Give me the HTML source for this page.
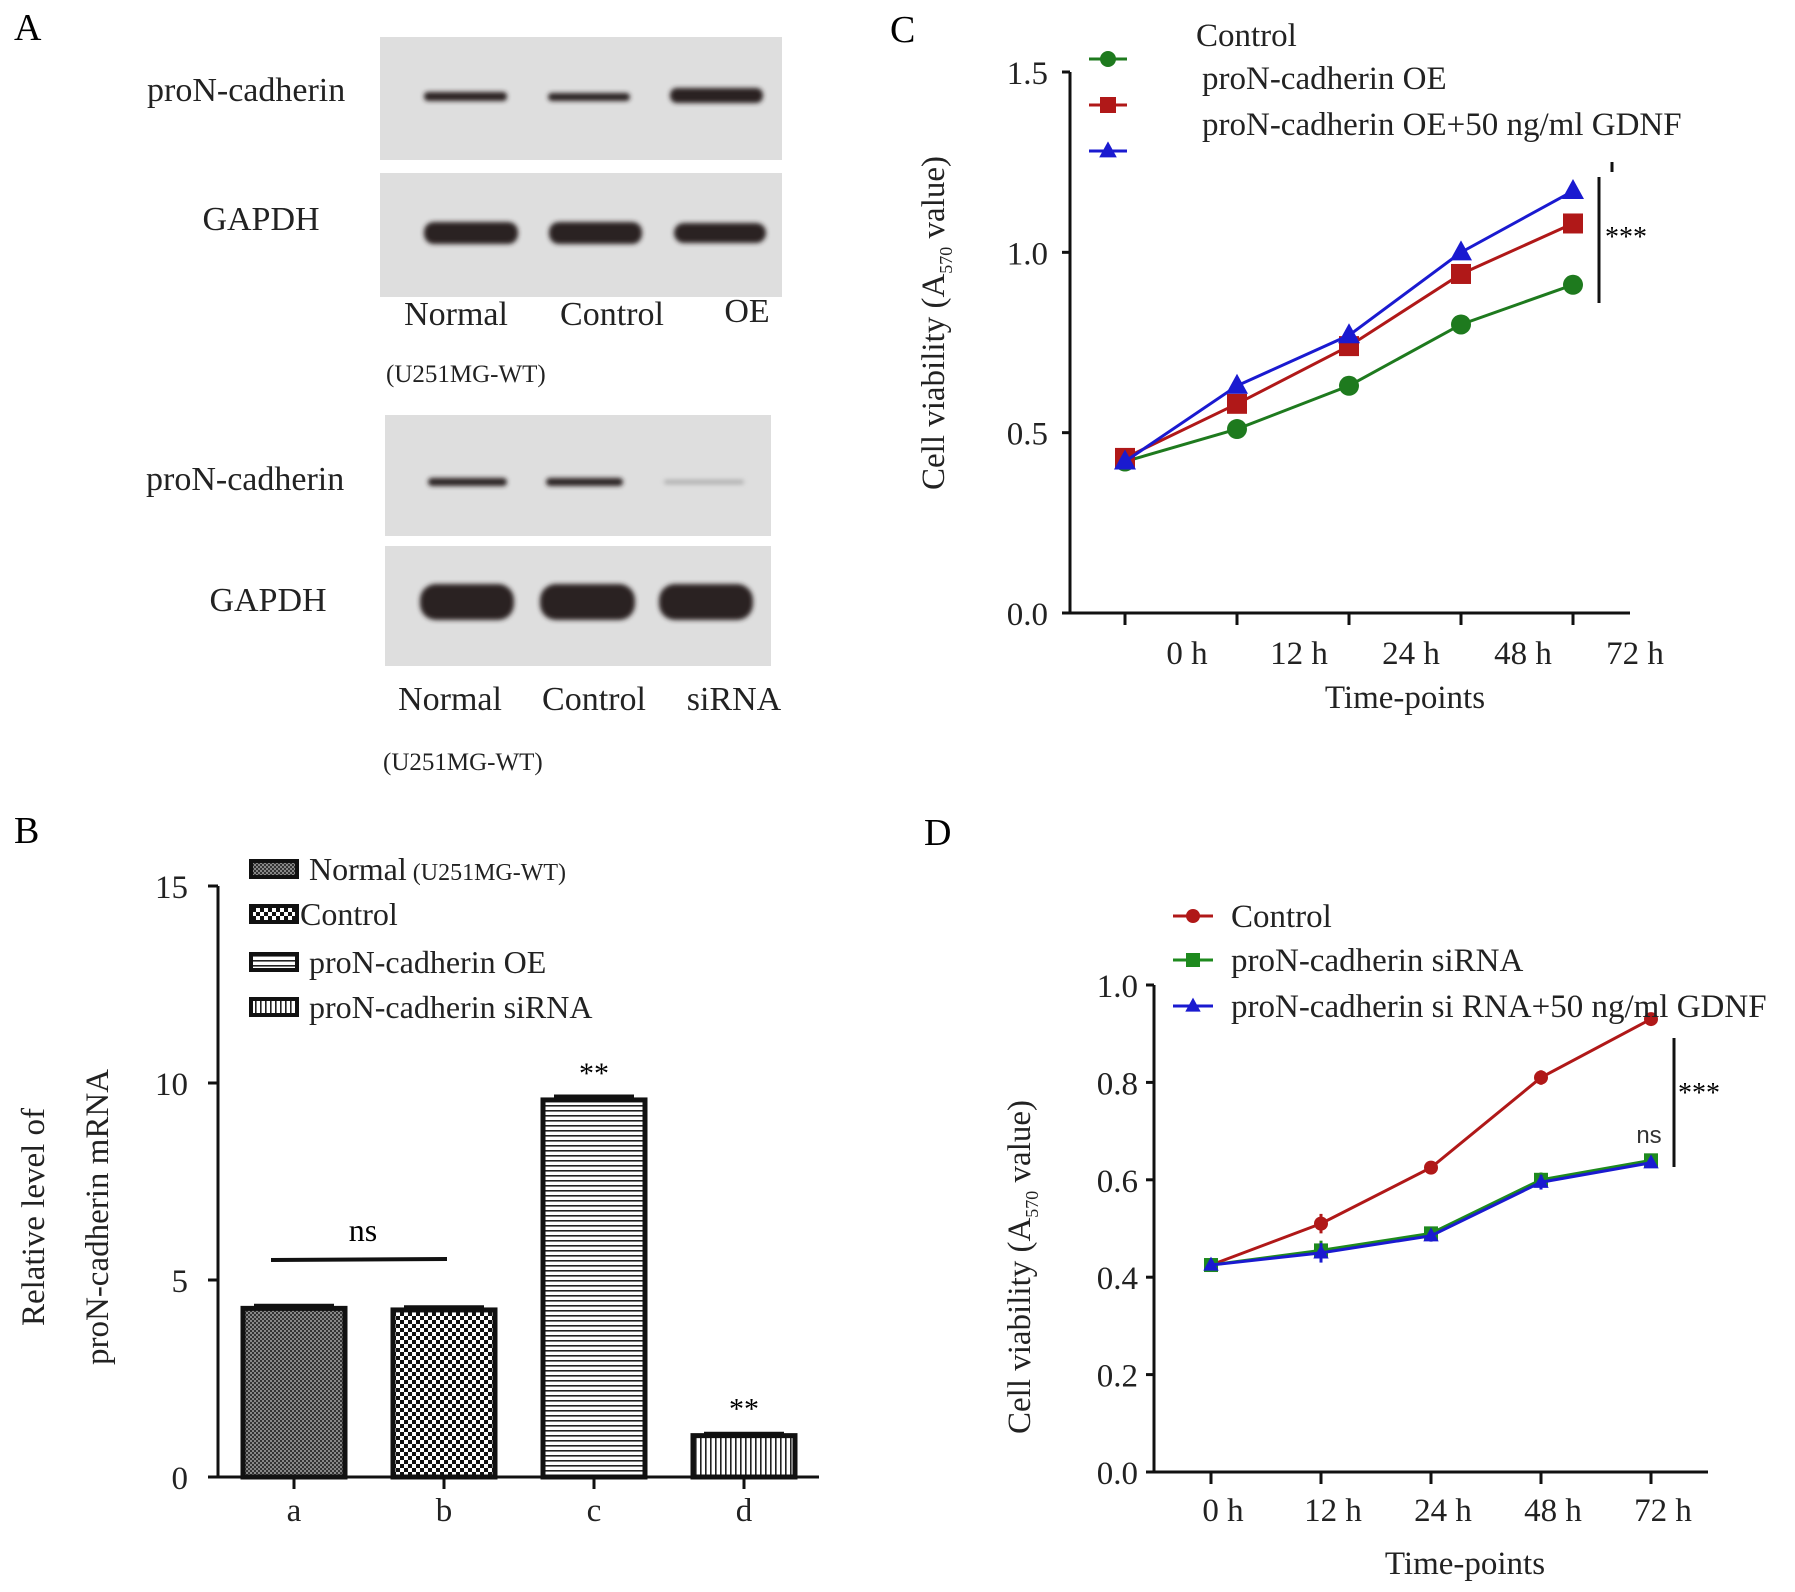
<!DOCTYPE html>
<html><head><meta charset="utf-8"><style>
body{margin:0;background:#fff}
svg{display:block;font-family:"Liberation Serif",serif}
</style></head><body>
<svg id="s" width="1795" height="1592" viewBox="0 0 1795 1592">
<defs>
<filter id="bl" x="-20%" y="-50%" width="140%" height="200%"><feGaussianBlur stdDeviation="2.5"/></filter>
<pattern id="pa" width="4" height="4" patternUnits="userSpaceOnUse"><rect width="4" height="4" fill="#888"/><rect width="2" height="2" fill="#333"/><rect x="2" y="2" width="2" height="2" fill="#333"/></pattern>
<pattern id="pb" width="8" height="8" patternUnits="userSpaceOnUse"><rect width="8" height="8" fill="#fff"/><rect width="4" height="4" fill="#111"/><rect x="4" y="4" width="4" height="4" fill="#111"/></pattern>
<pattern id="pc" width="6" height="5" patternUnits="userSpaceOnUse"><rect width="6" height="5" fill="#fff"/><rect width="6" height="1.6" fill="#222"/></pattern>
<pattern id="pd" width="5" height="6" patternUnits="userSpaceOnUse"><rect width="5" height="6" fill="#fff"/><rect width="1.6" height="6" fill="#222"/></pattern>
</defs>
<g>
<text x="14" y="40" font-size="38">A</text>
<rect x="380" y="37" width="402" height="123" fill="#dedede"/>
<rect x="380" y="173" width="402" height="124" fill="#dedede"/>
<rect x="385" y="415" width="386" height="121" fill="#dedede"/>
<rect x="385" y="546" width="386" height="120" fill="#dedede"/>
<g filter="url(#bl)" fill="#2a2222">
<rect x="424" y="92" width="83" height="9" rx="4"/>
<rect x="548" y="93" width="82" height="8" rx="4"/>
<rect x="670" y="88" width="93" height="15" rx="7"/>
<rect x="424" y="222" width="94" height="22" rx="10"/>
<rect x="549" y="222" width="93" height="22" rx="10"/>
<rect x="674" y="223" width="92" height="20" rx="10"/>
<rect x="428" y="478" width="79" height="8" rx="4"/>
<rect x="546" y="478" width="77" height="8" rx="4"/>
<rect x="664" y="480" width="80" height="4" rx="2" fill="#aaa"/>
<rect x="420" y="584" width="94" height="36" rx="16"/>
<rect x="540" y="584" width="95" height="36" rx="16"/>
<rect x="659" y="584" width="94" height="36" rx="16"/>
</g>
<g font-size="34" fill="#222">
<text x="147" y="101">proN-cadherin</text>
<text x="261" y="230" text-anchor="middle">GAPDH</text>
<text x="146" y="490">proN-cadherin</text>
<text x="268" y="611" text-anchor="middle">GAPDH</text>
<text x="456" y="325" text-anchor="middle">Normal</text>
<text x="612" y="325" text-anchor="middle">Control</text>
<text x="747" y="322" text-anchor="middle">OE</text>
<text x="450" y="710" text-anchor="middle">Normal</text>
<text x="594" y="710" text-anchor="middle">Control</text>
<text x="734" y="710" text-anchor="middle">siRNA</text>
<text x="386" y="382" font-size="25">(U251MG-WT)</text>
<text x="383" y="770" font-size="25">(U251MG-WT)</text>
</g>
</g>
<g id="B"></g>
<g id="C"></g>
<g id="D"></g>
</svg>
<script>
const NS="http://www.w3.org/2000/svg";
function mk(p,t,a,txt){const e=document.createElementNS(NS,t);for(const k in a)e.setAttribute(k,a[k]);if(txt!==undefined)e.textContent=txt;p.appendChild(e);return e;}

// ---- Panel B data
const bCats=["a","b","c","d"];
const bVals=[4.28,4.24,9.57,1.05];
const bErr=[0.08,0.08,0.1,0.06];
const bTicks=[0,5,10,15];
const bFills=["url(#pa)","url(#pb)","url(#pc)","url(#pd)"];
const bLegend=["Normal","Control","proN-cadherin OE","proN-cadherin siRNA"];
// ---- Panel C data
const cCats=["0 h","12 h","24 h","48 h","72 h"];
const cGreen=[0.42,0.51,0.63,0.80,0.91];
const cRed=[0.43,0.58,0.74,0.94,1.08];
const cBlue=[0.42,0.63,0.77,1.00,1.17];
const cTicks=[0,0.5,1.0,1.5];
const cLegend=["Control","proN-cadherin OE","proN-cadherin OE+50 ng/ml GDNF"];
// ---- Panel D data
const dCats=["0 h","12 h","24 h","48 h","72 h"];
const dRed=[0.425,0.51,0.625,0.81,0.93];
const dGreen=[0.425,0.455,0.49,0.60,0.64];
const dBlue=[0.425,0.45,0.485,0.595,0.635];
const dErr=[0.005,0.02,0.012,0.015,0.008];
const dTicks=[0,0.2,0.4,0.6,0.8,1.0];
const dLegend=["Control"," proN-cadherin siRNA","proN-cadherin si RNA+50 ng/ml GDNF"];

// ===== Panel B
(function(){
const g=document.getElementById("B");
const x0=218,y0=1477,yT=886,max=15;
const ys=v=>y0-(v/max)*(y0-yT);
const bx=i=>294+i*150;
let t=mk(g,"text",{x:14,y:843,"font-size":38});t.textContent="B";

let l=mk(g,"line",{x1:x0,y1:yT,x2:x0,y2:y0,stroke:"#111","stroke-width":3});

l=mk(g,"line",{x1:209,y1:y0,x2:819,y2:y0,stroke:"#111","stroke-width":3});

bTicks.forEach(v=>{
 mk(g,"line",{x1:x0-10,y1:ys(v),x2:x0,y2:ys(v),stroke:"#111","stroke-width":3});
 const e=mk(g,"text",{x:x0-30,y:ys(v)+12,"font-size":33,"text-anchor":"end",fill:"#222"},String(v));
 
});
bCats.forEach((c,i)=>{
 const x=bx(i);
 mk(g,"line",{x1:x,y1:y0,x2:x,y2:y0+12,stroke:"#111","stroke-width":3});
 const e=mk(g,"text",{x:x,y:1521,"font-size":33,"text-anchor":"middle",fill:"#222"},c);
 
 const r=mk(g,"rect",{x:x-51,y:ys(bVals[i]),width:102,height:y0-ys(bVals[i]),fill:bFills[i],stroke:"#111","stroke-width":5});
 
 const eb=mk(g,"line",{x1:x-40,y1:ys(bVals[i]+bErr[i]),x2:x+40,y2:ys(bVals[i]+bErr[i]),stroke:"#111","stroke-width":3});
 
});
[[2,"**"],[3,"**"]].forEach(([i,s])=>{const e=mk(g,"text",{x:bx(i),y:ys(bVals[i])-17,"font-size":30,"text-anchor":"middle"},s);
 });
l=mk(g,"line",{x1:271,y1:1260,x2:447,y2:1259,stroke:"#111","stroke-width":4});

t=mk(g,"text",{x:363,y:1241,"font-size":32,"text-anchor":"middle"},"ns");

bLegend.forEach((s,i)=>{
 const y=[869,914,962,1007][i];
 const r=mk(g,"rect",{x:251,y:y-8,width:46,height:16,fill:bFills[i],stroke:"#111","stroke-width":4});
 
 const e=mk(g,"text",{x:i==1?300:309,y:y+11,"font-size":32,fill:"#222"},s);
 
 if(i==0){const f=mk(g,"tspan",{"font-size":24,dx:6},"(U251MG-WT)");e.appendChild(f);}
});
t=mk(g,"text",{transform:"translate(44,1217) rotate(-90)","font-size":33,"text-anchor":"middle",fill:"#222"},"Relative level of");

t=mk(g,"text",{transform:"translate(108,1217) rotate(-90)","font-size":33,"text-anchor":"middle",fill:"#222"},"proN-cadherin mRNA");

})();

function marker(g,type,x,y,col,s){
 let e;
 if(type=="c")e=mk(g,"circle",{cx:x,cy:y,r:s,fill:col});
 else if(type=="s")e=mk(g,"rect",{x:x-s,y:y-s,width:2*s,height:2*s,fill:col});
 else e=mk(g,"polygon",{points:`${x},${y-s*1.2} ${x-s*1.1},${y+s*0.8} ${x+s*1.1},${y+s*0.8}`,fill:col});
 return e;
}

// ===== Panel C
(function(){
const g=document.getElementById("C");
const ax=1070,y0=613,yT=72,max=1.5;
const ys=v=>y0-(v/max)*(y0-yT);
const xs=i=>1125+i*112;
let t=mk(g,"text",{x:890,y:42,"font-size":38},"C");

let l=mk(g,"line",{x1:ax,y1:yT,x2:ax,y2:y0,stroke:"#111","stroke-width":3});

l=mk(g,"line",{x1:1064,y1:y0,x2:1630,y2:y0,stroke:"#111","stroke-width":3});

cTicks.forEach(v=>{
 mk(g,"line",{x1:ax-8,y1:ys(v),x2:ax,y2:ys(v),stroke:"#111","stroke-width":3});
 const e=mk(g,"text",{x:1048,y:ys(v)+12,"font-size":33,"text-anchor":"end",fill:"#222"},v.toFixed(1));
 
});
cCats.forEach((c,i)=>{
 mk(g,"line",{x1:xs(i),y1:y0,x2:xs(i),y2:y0+12,stroke:"#111","stroke-width":3});
 const e=mk(g,"text",{x:xs(i)+62,y:664,"font-size":33,"text-anchor":"middle",fill:"#222"},c);
 
});
t=mk(g,"text",{x:1405,y:708,"font-size":33,"text-anchor":"middle",fill:"#222"},"Time-points");

t=mk(g,"text",{transform:"translate(944,323) rotate(-90)","font-size":33,"text-anchor":"middle",fill:"#222"});

t.innerHTML='Cell viability (A<tspan font-size="18" dy="8">570</tspan><tspan dy="-8"> value)</tspan>';
[[cGreen,"#1e7a1e","c","line-control"],[cRed,"#b01818","s","line-oe"],[cBlue,"#1a1ad0","t","line-oe-gdnf"]].forEach(([d,col,m,n])=>{
 const p=mk(g,"polyline",{points:d.map((v,i)=>xs(i)+","+ys(v)).join(" "),fill:"none",stroke:col,"stroke-width":3});
 
 d.forEach((v,i)=>{const e=marker(g,m,xs(i),ys(v),col,10);
  });
});
[["#1e7a1e","c",59],["#b01818","s",105],["#1a1ad0","t",151]].forEach(([col,m,y],i)=>{
 const l2=mk(g,"line",{x1:1089,y1:y,x2:1127,y2:y,stroke:col,"stroke-width":3});
 
 const e=marker(g,m,1108,y,col,8);
 
 const tx=mk(g,"text",{x:i==0?1196:1202,y:[46,89,135][i],"font-size":33,fill:"#222"},cLegend[i]);
 
});
l=mk(g,"line",{x1:1599,y1:177,x2:1599,y2:303,stroke:"#111","stroke-width":3});

mk(g,"line",{x1:1612,y1:162,x2:1612,y2:172,stroke:"#111","stroke-width":3});
t=mk(g,"text",{x:1605,y:246,"font-size":28},"***");

})();

// ===== Panel D
(function(){
const g=document.getElementById("D");
const ax=1154,y0=1472,yT=985,max=1.0;
const ys=v=>y0-(v/max)*(y0-yT);
const xs=i=>1211+i*110;
let t=mk(g,"text",{x:924,y:845,"font-size":38},"D");

let l=mk(g,"line",{x1:ax,y1:yT,x2:ax,y2:y0,stroke:"#111","stroke-width":3});

l=mk(g,"line",{x1:1148,y1:y0,x2:1708,y2:y0,stroke:"#111","stroke-width":3});

dTicks.forEach(v=>{
 mk(g,"line",{x1:ax-8,y1:ys(v),x2:ax,y2:ys(v),stroke:"#111","stroke-width":3});
 const e=mk(g,"text",{x:1138,y:ys(v)+12,"font-size":33,"text-anchor":"end",fill:"#222"},v.toFixed(1));
 
});
dCats.forEach((c,i)=>{
 mk(g,"line",{x1:xs(i),y1:y0,x2:xs(i),y2:y0+12,stroke:"#111","stroke-width":3});
 const e=mk(g,"text",{x:xs(i)+12,y:1521,"font-size":33,"text-anchor":"middle",fill:"#222"},c);
 
});
t=mk(g,"text",{x:1465,y:1574,"font-size":33,"text-anchor":"middle",fill:"#222"},"Time-points");

t=mk(g,"text",{transform:"translate(1030,1267) rotate(-90)","font-size":33,"text-anchor":"middle",fill:"#222"});

t.innerHTML='Cell viability (A<tspan font-size="18" dy="8">570</tspan><tspan dy="-8"> value)</tspan>';
[[dRed,"#b01818","c","line-control"],[dGreen,"#1e8a1e","s","line-sirna"],[dBlue,"#1a1ad0","t","line-sirna-gdnf"]].forEach(([d,col,m,n])=>{
 const p=mk(g,"polyline",{points:d.map((v,i)=>xs(i)+","+ys(v)).join(" "),fill:"none",stroke:col,"stroke-width":3});
 
 d.forEach((v,i)=>{
  const eb=mk(g,"line",{x1:xs(i),y1:ys(v+dErr[i]),x2:xs(i),y2:ys(v-dErr[i]),stroke:col,"stroke-width":3});
  
  const e=marker(g,m,xs(i),ys(v),col,7);
  });
});
[["#b01818","c",916],["#1e8a1e","s",960],["#1a1ad0","t",1006]].forEach(([col,m,y],i)=>{
 const l2=mk(g,"line",{x1:1173,y1:y,x2:1213,y2:y,stroke:col,"stroke-width":3});
 
 const e=marker(g,m,1193,y,col,7);
 
 const tx=mk(g,"text",{x:1231,y:y+11,"font-size":33,fill:"#222","xml:space":"preserve"},dLegend[i]);
 
});
l=mk(g,"line",{x1:1674,y1:1038,x2:1674,y2:1167,stroke:"#111","stroke-width":3});

t=mk(g,"text",{x:1678,y:1102,"font-size":28},"***");

t=mk(g,"text",{x:1649,y:1143,"font-size":24,"text-anchor":"middle","font-family":"Liberation Sans, sans-serif",fill:"#333"},"ns");

})();
</script>
</body></html>
